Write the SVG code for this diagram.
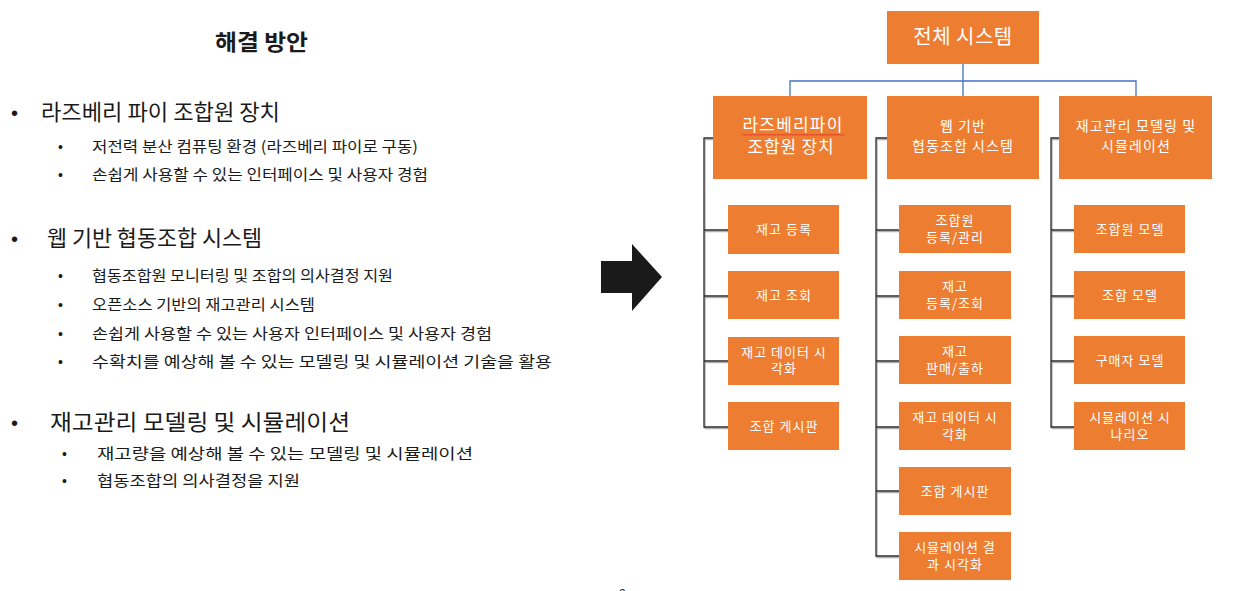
<svg xmlns="http://www.w3.org/2000/svg" width="1246" height="591" viewBox="0 0 1246 591">
<style>
  .t { font-family: "Noto Sans CJK KR", "Noto Sans", sans-serif; }
  .h1 { font-size: 22px; fill: #1a1a1a; }
  .sub { font-size: 15px; fill: #1a1a1a; }
  .bul { font-family: "Liberation Sans", sans-serif; fill: #1a1a1a; }
  .box { fill: #ED7D31; }
  .bt { font-family: "Noto Sans CJK KR", "Noto Sans", sans-serif; fill: #ffffff; text-anchor: middle; }
  .c13 { font-size: 13px; letter-spacing: 1px; }
  .c14 { font-size: 14px; letter-spacing: 1.1px; }
  .conn { fill: none; stroke: #2b2b2b; stroke-width: 1.3; }
  .shadow { fill: none; stroke: #b0b0b0; stroke-width: 1.3; }
  .blue { fill: none; stroke: #4472C4; stroke-width: 1.3; }
</style>

<g id="left-text">
  <text class="t" x="215" y="50" font-size="22" font-weight="bold" fill="#1a1a1a" textLength="93" lengthAdjust="spacingAndGlyphs">해결 방안</text>

  <text class="bul" x="11" y="120" font-size="20">•</text>
  <text class="t h1" x="41" y="120" textLength="239" lengthAdjust="spacingAndGlyphs">라즈베리 파이 조합원 장치</text>
  <text class="bul" x="58" y="152" font-size="14">•</text>
  <text class="t sub" x="92" y="152" textLength="326" lengthAdjust="spacingAndGlyphs">저전력 분산 컴퓨팅 환경 (라즈베리 파이로 구동)</text>
  <text class="bul" x="58" y="180" font-size="14">•</text>
  <text class="t sub" x="92" y="180" textLength="336" lengthAdjust="spacingAndGlyphs">손쉽게 사용할 수 있는 인터페이스 및 사용자 경험</text>

  <text class="bul" x="11" y="246" font-size="20">•</text>
  <text class="t h1" x="47" y="246" textLength="215" lengthAdjust="spacingAndGlyphs">웹 기반 협동조합 시스템</text>
  <text class="bul" x="58" y="281" font-size="14">•</text>
  <text class="t sub" x="92" y="281" textLength="301" lengthAdjust="spacingAndGlyphs">협동조합원 모니터링 및 조합의 의사결정 지원</text>
  <text class="bul" x="58" y="310" font-size="14">•</text>
  <text class="t sub" x="92" y="310" textLength="223" lengthAdjust="spacingAndGlyphs">오픈소스 기반의 재고관리 시스템</text>
  <text class="bul" x="58" y="339" font-size="14">•</text>
  <text class="t sub" x="92" y="339" textLength="400" lengthAdjust="spacingAndGlyphs">손쉽게 사용할 수 있는 사용자 인터페이스 및 사용자 경험</text>
  <text class="bul" x="58" y="367" font-size="14">•</text>
  <text class="t sub" x="92" y="367" textLength="460" lengthAdjust="spacingAndGlyphs">수확치를 예상해 볼 수 있는 모델링 및 시뮬레이션 기술을 활용</text>

  <text class="bul" x="11" y="430" font-size="20">•</text>
  <text class="t h1" x="50" y="430" textLength="300" lengthAdjust="spacingAndGlyphs">재고관리 모델링 및 시뮬레이션</text>
  <text class="bul" x="62" y="459" font-size="14">•</text>
  <text class="t sub" x="97" y="459" textLength="376" lengthAdjust="spacingAndGlyphs">재고량을 예상해 볼 수 있는 모델링 및 시뮬레이션</text>
  <text class="bul" x="62" y="486" font-size="14">•</text>
  <text class="t sub" x="97" y="486" textLength="203" lengthAdjust="spacingAndGlyphs">협동조합의 의사결정을 지원</text>
</g>

<g id="big-arrow">
  <polygon points="601,261 632,261 632,244 662,277 632,311 632,293 601,293" fill="#1a1a1a"/>
</g>

<g id="connectors">
  <path class="blue" d="M963,64 V81 M790,96 V81 H1136 V96 M963,81 V96"/>
  <g transform="translate(1,1.5)">
    <path class="shadow" d="M713,138 H704 V427 H728 M704,230 H728 M704,296 H728 M704,361 H728"/>
    <path class="shadow" d="M887,138 H876 V556 H899 M876,230 H899 M876,296 H899 M876,361 H899 M876,427 H899 M876,491 H899"/>
    <path class="shadow" d="M1059,138 H1051 V427 H1074 M1051,230 H1074 M1051,296 H1074 M1051,361 H1074"/>
  </g>
  <path class="conn" d="M713,138 H704 V427 H728 M704,230 H728 M704,296 H728 M704,361 H728"/>
  <path class="conn" d="M887,138 H876 V556 H899 M876,230 H899 M876,296 H899 M876,361 H899 M876,427 H899 M876,491 H899"/>
  <path class="conn" d="M1059,138 H1051 V427 H1074 M1051,230 H1074 M1051,296 H1074 M1051,361 H1074"/>
</g>

<g id="root">
  <rect class="box" x="887" y="11" width="152" height="53"/>
  <text class="bt" x="963" y="44" font-size="20" letter-spacing="0.5">전체 시스템</text>
</g>

<g id="rpi">
  <rect class="box" x="713" y="96" width="154" height="83"/>
  <text class="bt" x="793" y="131" font-size="17" letter-spacing="1.2">라즈베리파이</text>
  <path d="M742,135.5 l1.5,-1.5 l1.5,1.5 l1.5,-1.5 l1.5,1.5 l1.5,-1.5 l1.5,1.5 l1.5,-1.5 l1.5,1.5 l1.5,-1.5 l1.5,1.5 l1.5,-1.5 l1.5,1.5 l1.5,-1.5 l1.5,1.5 l1.5,-1.5 l1.5,1.5 l1.5,-1.5 l1.5,1.5 l1.5,-1.5 l1.5,1.5 l1.5,-1.5 l1.5,1.5 l1.5,-1.5 l1.5,1.5 l1.5,-1.5 l1.5,1.5 l1.5,-1.5 l1.5,1.5 l1.5,-1.5 l1.5,1.5 l1.5,-1.5 l1.5,1.5 l1.5,-1.5 l1.5,1.5 l1.5,-1.5 l1.5,1.5 l1.5,-1.5 l1.5,1.5 l1.5,-1.5 l1.5,1.5 l1.5,-1.5 l1.5,1.5 l1.5,-1.5 l1.5,1.5 l1.5,-1.5 l1.5,1.5 l1.5,-1.5 l1.5,1.5 l1.5,-1.5 l1.5,1.5 l1.5,-1.5 l1.5,1.5 l1.5,-1.5 l1.5,1.5 l1.5,-1.5 l1.5,1.5 l1.5,-1.5 l1.5,1.5 l1.5,-1.5 l1.5,1.5 l1.5,-1.5 l1.5,1.5 l1.5,-1.5 l1.5,1.5 l1.5,-1.5 l1.5,1.5 l1.5,-1.5 l1.5,1.5" fill="none" stroke="#e03030" stroke-width="0.9"/>
  <text class="bt" x="791" y="153" font-size="17" letter-spacing="0.8">조합원 장치</text>
</g>

<g id="web">
  <rect class="box" x="887" y="96" width="152" height="83"/>
  <text class="bt c14" x="963" y="131">웹 기반</text>
  <text class="bt c14" x="963" y="151">협동조합 시스템</text>
</g>

<g id="model">
  <rect class="box" x="1059" y="96" width="153" height="83"/>
  <text class="bt c14" x="1136" y="131">재고관리 모델링 및</text>
  <text class="bt c14" x="1136" y="151">시뮬레이션</text>
</g>

<g id="c1-1"><rect class="box" x="728" y="205" width="111" height="49"/><text class="bt c13" x="784" y="234">재고 등록</text></g>
<g id="c1-2"><rect class="box" x="728" y="271" width="111" height="48"/><text class="bt c13" x="784" y="300">재고 조회</text></g>
<g id="c1-3"><rect class="box" x="728" y="337" width="111" height="48"/><text class="bt c13" x="784" y="357">재고 데이터 시</text><text class="bt c13" x="784" y="373">각화</text></g>
<g id="c1-4"><rect class="box" x="728" y="402" width="111" height="48"/><text class="bt c13" x="784" y="431">조합 게시판</text></g>

<g id="c2-1"><rect class="box" x="899" y="205" width="112" height="48"/><text class="bt c13" x="955" y="225">조합원</text><text class="bt c13" x="955" y="242">등록/관리</text></g>
<g id="c2-2"><rect class="box" x="899" y="271" width="112" height="48"/><text class="bt c13" x="955" y="291">재고</text><text class="bt c13" x="955" y="308">등록/조회</text></g>
<g id="c2-3"><rect class="box" x="899" y="336" width="112" height="48"/><text class="bt c13" x="955" y="356">재고</text><text class="bt c13" x="955" y="373">판매/출하</text></g>
<g id="c2-4"><rect class="box" x="899" y="402" width="112" height="48"/><text class="bt c13" x="955" y="422">재고 데이터 시</text><text class="bt c13" x="955" y="439">각화</text></g>
<g id="c2-5"><rect class="box" x="899" y="467" width="112" height="48"/><text class="bt c13" x="955" y="496">조합 게시판</text></g>
<g id="c2-6"><rect class="box" x="899" y="532" width="112" height="48"/><text class="bt c13" x="955" y="552">시뮬레이션 결</text><text class="bt c13" x="955" y="569">과 시각화</text></g>

<g id="c3-1"><rect class="box" x="1074" y="205" width="111" height="48"/><text class="bt c13" x="1130" y="234">조합원 모델</text></g>
<g id="c3-2"><rect class="box" x="1074" y="271" width="111" height="48"/><text class="bt c13" x="1130" y="300">조합 모델</text></g>
<g id="c3-3"><rect class="box" x="1074" y="336" width="111" height="48"/><text class="bt c13" x="1130" y="365">구매자 모델</text></g>
<g id="c3-4"><rect class="box" x="1074" y="402" width="111" height="48"/><text class="bt c13" x="1130" y="422">시뮬레이션 시</text><text class="bt c13" x="1130" y="439">나리오</text></g>

<text class="bul" x="619" y="598" font-size="12">2</text>
</svg>
